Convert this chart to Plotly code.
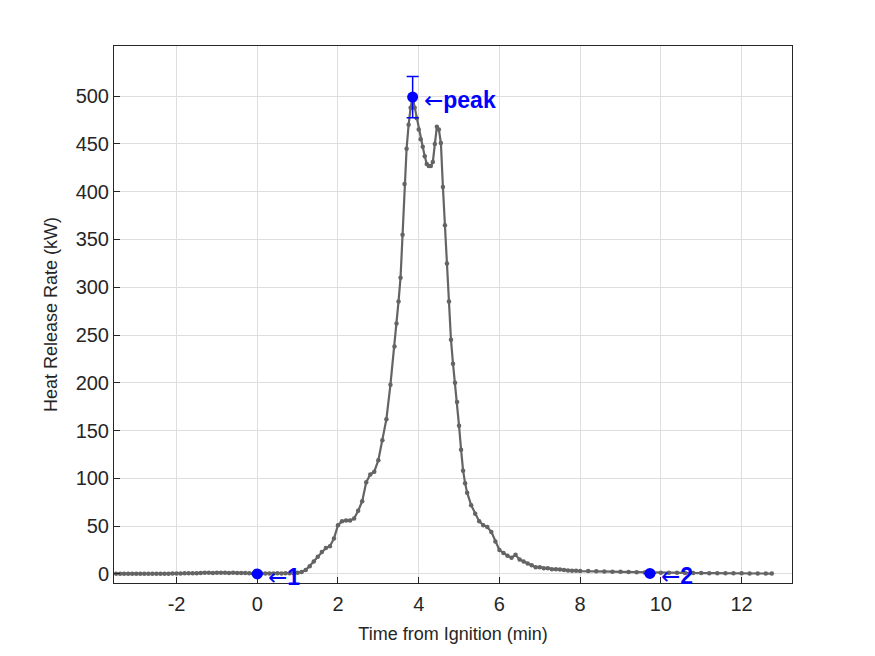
import plotly.graph_objects as go

time_min = [
    -3.5, -3.4, -3.3, -3.2, -3.1, -3.0, -2.9, -2.8, -2.7, -2.6, -2.5, -2.4, -2.3, -2.2, -2.1,
    -2.0, -1.9, -1.8, -1.7, -1.6, -1.5, -1.4, -1.3, -1.2, -1.1, -1.0, -0.9, -0.8, -0.7, -0.6,
    -0.5, -0.4, -0.3, -0.2, -0.1, 0.0, 0.1, 0.2, 0.3, 0.4, 0.5, 0.6, 0.7, 0.8, 0.9,
    1.0, 1.1, 1.2, 1.3, 1.4, 1.5, 1.6, 1.7, 1.8, 1.9, 2.0, 2.1, 2.2, 2.3, 2.4, 2.5, 2.6,
    2.7, 2.8, 2.9, 3.0, 3.1, 3.2, 3.3, 3.4, 3.45, 3.5, 3.55, 3.6, 3.65, 3.7, 3.75, 3.8, 3.85,
    3.9, 3.95, 4.0, 4.05, 4.1, 4.15, 4.2, 4.25, 4.3, 4.35, 4.4, 4.45, 4.5, 4.55, 4.6, 4.65,
    4.7, 4.75, 4.8, 4.85, 4.9, 4.95, 5.0, 5.05, 5.1, 5.15, 5.2, 5.3, 5.4, 5.5, 5.6, 5.7,
    5.8, 5.9, 6.0, 6.1, 6.2, 6.3, 6.4, 6.5, 6.6, 6.7, 6.8, 6.9, 7.0, 7.1, 7.2, 7.3, 7.4,
    7.5, 7.6, 7.7, 7.8, 7.9, 8.0, 8.2, 8.4, 8.6, 8.8, 9.0, 9.2, 9.4, 9.6, 9.8, 10.0, 10.2,
    10.4, 10.6, 10.8, 11.0, 11.2, 11.4, 11.6, 11.8, 12.0, 12.2, 12.4, 12.6, 12.75,
]
hrr_kw = [
    0.3, 0.2, 0.3, 0.2, 0.2, 0.3, 0.2, 0.3, 0.2, 0.2, 0.3, 0.3, 0.2, 0.3, 0.4,
    0.4, 0.5, 0.6, 0.6, 0.7, 0.8, 1.0, 1.1, 1.1, 1.0, 1.1, 1.2, 1.1, 1.0, 1.1,
    1.0, 1.0, 0.9, 0.7, 0.5, 0.4, 0.4, 0.5, 0.4, 0.5, 0.6, 0.5, 0.6, 0.7, 0.8,
    1.2, 2.0, 4.0, 8.0, 13.0, 18.0, 23.0, 27.0, 29.0, 37.0, 51.0, 55.0, 56.0, 56.0, 58.0, 66.0, 76.0,
    96.0, 104.0, 107.0, 119.0, 140.0, 162.0, 198.0, 238.0, 262.0, 285.0, 310.0, 355.0, 408.0, 445.0, 470.0, 488.0, 499.0,
    488.0, 477.0, 465.0, 455.0, 447.0, 437.0, 429.0, 427.0, 427.0, 431.0, 450.0, 468.0, 465.0, 451.0, 405.0, 365.0,
    325.0, 285.0, 245.0, 220.0, 200.0, 180.0, 155.0, 130.0, 108.0, 95.0, 85.0, 72.0, 63.0, 55.0, 51.0, 49.0,
    44.0, 34.0, 25.0, 22.0, 19.0, 17.0, 20.0, 15.0, 13.0, 11.0, 9.0, 7.0, 7.0, 6.0, 6.0, 5.0, 5.0,
    4.5, 4.0, 3.5, 3.3, 3.2, 3.0, 3.0, 2.8, 2.6, 2.3, 2.2, 2.0, 1.8, 1.6, 1.4, 1.3, 1.2,
    1.1, 1.0, 1.0, 0.9, 0.8, 0.8, 0.7, 0.6, 0.6, 0.5, 0.5, 0.4, 0.4,
]

event_t = [0.0, 3.85, 9.73]
event_hrr = [0.0, 499.0, 0.5]
event_err = [0.0, 21.5, 0.0]
event_names = ["1", "peak", "2"]

x_ticks = [-2, 0, 2, 4, 6, 8, 10, 12]
y_ticks = [0, 50, 100, 150, 200, 250, 300, 350, 400, 450, 500]

gray = "rgb(100,100,100)"
blue = "#0000FF"
axis_col = "#262626"

fig = go.Figure()
fig.add_trace(go.Scatter(
    x=time_min, y=hrr_kw, mode="lines+markers",
    line=dict(color=gray, width=2.2),
    marker=dict(color=gray, size=4.5),
    showlegend=False,
))
fig.add_trace(go.Scatter(
    x=event_t, y=event_hrr, mode="markers",
    marker=dict(color=blue, size=11),
    error_y=dict(type="data", array=event_err, color=blue, thickness=1.5, width=6),
    showlegend=False,
))
for xt, yt, name in zip(event_t, event_hrr, event_names):
    fig.add_annotation(
        x=xt, y=yt,
        text='<span style="font-family:DejaVu Sans">←</span><b>' + name + '</b>',
        showarrow=False, xanchor="left", yanchor="middle",
        xshift=9, yshift=-3,
        font=dict(family="Liberation Sans, Arial", size=23, color=blue),
    )

fig.update_layout(
    width=875, height=656,
    margin=dict(l=114, r=83, t=46, b=73),
    paper_bgcolor="white", plot_bgcolor="white",
    font=dict(family="Liberation Sans, Arial", color=axis_col),
)
fig.update_xaxes(
    range=[-3.55, 13.25], tickvals=x_ticks, ticktext=[str(v) for v in x_ticks],
    showgrid=True, gridcolor="#DEDEDE", gridwidth=1, zeroline=False,
    showline=True, linecolor=axis_col, linewidth=1, mirror=True,
    ticks="inside", ticklen=6, tickcolor=axis_col, ticklabelstandoff=3,
    tickfont=dict(size=20, color=axis_col),
    title=dict(text="Time from Ignition (min)", font=dict(size=18, color=axis_col), standoff=13),
)
fig.update_yaxes(
    range=[-9.5, 552.5], tickvals=y_ticks, ticktext=[str(v) for v in y_ticks],
    showgrid=True, gridcolor="#DEDEDE", gridwidth=1, zeroline=False,
    showline=True, linecolor=axis_col, linewidth=1, mirror=True,
    ticks="inside", ticklen=6, tickcolor=axis_col,
    tickfont=dict(size=20, color=axis_col),
    title=dict(text="Heat Release Rate (kW)", font=dict(size=18, color=axis_col), standoff=13),
)

fig.write_html("out.html")
